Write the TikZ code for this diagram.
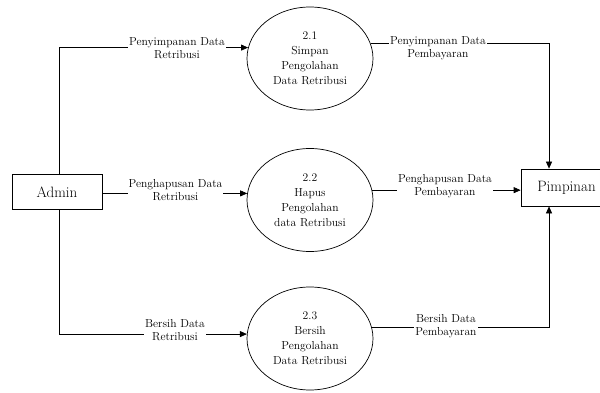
\documentclass[tikz,border=0pt]{standalone}
\usetikzlibrary{shapes.geometric,arrows.meta}
\begin{document}
\begin{tikzpicture}[x=1pt,y=-1pt,
  ent/.style={draw, line width=0.7pt, minimum width=90pt, minimum height=35pt, inner sep=0pt, font=\fontsize{15}{18}\selectfont},
  proc/.style={draw, ellipse, line width=0.7pt, minimum width=126pt, minimum height=103pt, inner sep=0pt, align=center, font=\fontsize{11.6}{15}\selectfont},
  lbl/.style={fill=white, inner sep=1pt, align=center, font=\fontsize{11.6}{13}\selectfont},
  flow/.style={line width=0.7pt, -{Triangle[length=7pt,width=6pt]}}]
\clip (0,0) rectangle (600,393);
\fill[white] (0,0) rectangle (600,393);

\node[ent] (admin) at (57,192) {Admin};
\node[ent, minimum width=91pt, minimum height=37pt] (pim) at (566.5,187.5) {Pimpinan};

\node[proc] (p1) at (310,58.5) {2.1\\Simpan\\Pengolahan\\Data Retribusi};
\node[proc] (p2) at (310,200) {2.2\\Hapus\\Pengolahan\\data Retribusi};
\node[proc] (p3) at (310,338.5) {2.3\\Bersih\\Pengolahan\\Data Retribusi};

\draw[flow] ([xshift=2pt]admin.north) |- (p1.170);
\draw[flow] (p2.174 -| admin.east) -- (p2.174);
\draw[flow] ([xshift=2pt]admin.south) |- (p3.176);

\draw[flow] (p1.14) -| ([xshift=-17.5pt]pim.north);
\draw[flow] (p2.9) -- (p2.9 -| pim.west);
\draw[flow] (p3.10) -| ([xshift=-17.5pt]pim.south);

\node[lbl] (l1) at (177,48.5) {Penyimpanan Data\\Retribusi};
\node[lbl] (l2) at (175.5,190) {Penghapusan Data\\Retribusi};
\node[lbl] (l3) at (175,330) {Bersih Data\\Retribusi};
\node[lbl] (r1) at (438,48.5) {Penyimpanan Data\\Pembayaran};
\node[lbl] (r2) at (445,186.5) {Penghapusan Data\\Pembayaran};
\node[lbl] (r3) at (446,326) {Bersih Data\\Pembayaran};
\end{tikzpicture}
\end{document}
